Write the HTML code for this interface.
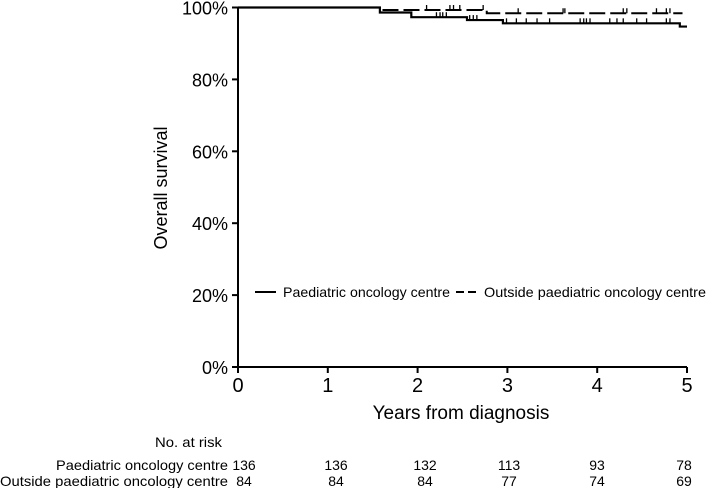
<!DOCTYPE html>
<html><head><meta charset="utf-8">
<style>
html,body{margin:0;padding:0;background:#fff;}
svg{display:block;font-family:"Liberation Sans",Arial,sans-serif;}
</style></head>
<body>
<svg id="chart" width="709" height="488" viewBox="0 0 709 488">
<g id="axes"></g><g id="curves"></g><g id="legend"></g><g id="risk"></g>
</svg>
<script>
// ---- data ----
const xTicks = [0, 1, 2, 3, 4, 5];
const yTicks = [0, 20, 40, 60, 80, 100];
const solidTimes = [0, 1.58, 1.93, 2.55, 2.95, 4.92, 5.0];
const solidSurv  = [100, 98.6, 97.3, 96.5, 95.6, 94.7, 94.7];
const dashTimes  = [0, 1.58, 2.77, 4.95];
const dashSurv   = [100, 99.3, 98.4, 98.4];
const solidCensor = [2.21,2.25,2.28,2.32,2.58,2.62,2.66,2.99,3.10,3.21,3.33,3.47,3.81,3.85,3.88,3.92,4.14,4.22,4.29,4.44,4.55,4.77,4.81];
const dashCensor  = [2.10,2.36,2.40,2.47,2.73,3.12,3.62,3.64,4.29,4.33,4.66,4.77,4.81];
const riskGroups = ["Paediatric oncology centre", "Outside paediatric oncology centre"];
const riskSolid = [136, 136, 132, 113, 93, 78];
const riskDash  = [84, 84, 84, 77, 74, 69];

const NS = "http://www.w3.org/2000/svg";
const X = t => 238 + t * 89.8;
const Y = s => 367 - s * 3.595;
function mk(parent, tag, attrs, txt){
  const e = document.createElementNS(NS, tag);
  for (const k in attrs) e.setAttribute(k, attrs[k]);
  if (txt !== undefined) e.textContent = txt;
  parent.appendChild(e); return e;
}
const axes = document.getElementById('axes');
let e;
e = mk(axes,'line',{x1:X(0),y1:Y(0),x2:X(5),y2:Y(0),stroke:'#000','stroke-width':2});
 
e = mk(axes,'line',{x1:X(0),y1:Y(0),x2:X(0),y2:Y(100),stroke:'#000','stroke-width':2});
 
xTicks.forEach(t=>{
  e = mk(axes,'line',{x1:X(t),y1:Y(0),x2:X(t),y2:Y(0)+6,stroke:'#000','stroke-width':2});
   
  e = mk(axes,'text',{x:X(t),y:392,'text-anchor':'middle','font-size':20},String(t));
   
});
yTicks.forEach(s=>{
  e = mk(axes,'line',{x1:X(0)-6,y1:Y(s),x2:X(0),y2:Y(s),stroke:'#000','stroke-width':2});
   
  e = mk(axes,'text',{x:228,y:Y(s)+7,'text-anchor':'end','font-size':18},s+'%');
   
});
e = mk(axes,'text',{x:0,y:0,'text-anchor':'middle','font-size':18,transform:'translate(167,188) rotate(-90)'},'Overall survival');
 
e = mk(axes,'text',{x:461,y:419,'text-anchor':'middle','font-size':19},'Years from diagnosis');
 

function stepPath(ts, ss){
  let d = 'M'+X(ts[0])+','+Y(ss[0]);
  for (let i=1;i<ts.length;i++){ d += ' H'+X(ts[i])+' V'+Y(ss[i]); }
  return d;
}
function survAt(ts, ss, t){ let v=ss[0]; for(let i=0;i<ts.length;i++) if(ts[i]<=t) v=ss[i]; return v; }
const curves = document.getElementById('curves');
e = mk(curves,'path',{d:stepPath(dashTimes,dashSurv),fill:'none',stroke:'#000','stroke-width':2,'stroke-dasharray':'16 5'});
 
e = mk(curves,'path',{d:stepPath(solidTimes,solidSurv),fill:'none',stroke:'#000','stroke-width':2.2});
 
solidCensor.forEach(t=>{
  const y = Y(survAt(solidTimes,solidSurv,t));
  e = mk(curves,'line',{x1:X(t),y1:y,x2:X(t),y2:y-5,stroke:'#000','stroke-width':1.3});
   
});
dashCensor.forEach(t=>{
  const y = Y(survAt(dashTimes,dashSurv,t));
  e = mk(curves,'line',{x1:X(t),y1:y,x2:X(t),y2:y-5,stroke:'#000','stroke-width':1.3});
   
});

const lg = document.getElementById('legend');
e = mk(lg,'line',{x1:255,y1:292,x2:276,y2:292,stroke:'#000','stroke-width':2});
 
e = mk(lg,'text',{x:283,y:297,'font-size':14,textLength:167,lengthAdjust:'spacingAndGlyphs'},riskGroups[0]);
 
e = mk(lg,'line',{x1:456,y1:292,x2:477,y2:292,stroke:'#000','stroke-width':2,'stroke-dasharray':'8 4'});
 
e = mk(lg,'text',{x:484,y:297,'font-size':14,textLength:222,lengthAdjust:'spacingAndGlyphs'},riskGroups[1]);
 

const rk = document.getElementById('risk');
const riskX = [244, 336, 425, 509, 597, 684];
const labelLen = [172, 228];
e = mk(rk,'text',{x:222,y:447,'text-anchor':'end','font-size':14,textLength:67,lengthAdjust:'spacingAndGlyphs'},'No. at risk');
 
[[riskSolid,470],[riskDash,486]].forEach(([vals,y],gi)=>{
  e = mk(rk,'text',{x:228-labelLen[gi],y:y,'font-size':14,textLength:labelLen[gi],lengthAdjust:'spacingAndGlyphs'},riskGroups[gi]);
   
  vals.forEach((v,i)=>{
    e = mk(rk,'text',{x:riskX[i],y:y,'text-anchor':'middle','font-size':14},String(v));
     
  });
});
</script>
</body></html>
